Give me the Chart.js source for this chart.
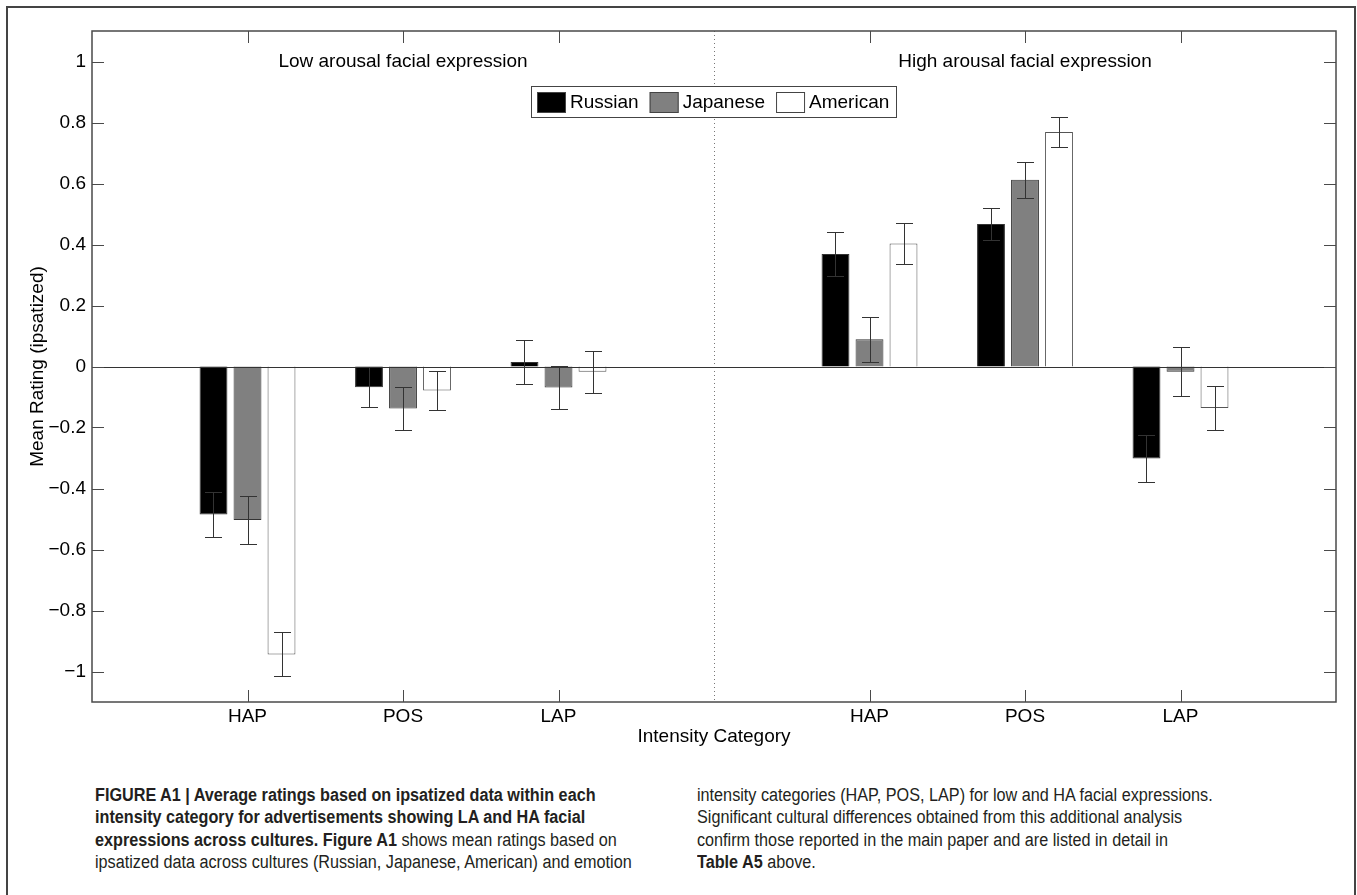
<!DOCTYPE html>
<html>
<head>
<meta charset="utf-8">
<script src="https://cdn.jsdelivr.net/npm/chart.js@4.4.0/dist/chart.umd.min.js"></script>
<style>
  html, body { margin: 0; padding: 0; background: #fff; }
  body { width: 1357px; height: 895px; position: relative; overflow: hidden; font-family: "Liberation Sans", Arial, sans-serif; }
  #frame { position: absolute; left: 6px; top: 6px; width: 1346px; height: 920px; border: 2px solid #444; border-bottom: none; }
  #wrap { position: absolute; left: 0; top: 0; width: 1357px; height: 760px; }
  .cap { position: absolute; font-family: "Liberation Sans", Arial, sans-serif; font-size: 18px; line-height: 22.3px; color: #231f20; white-space: nowrap; transform: scaleX(0.9); transform-origin: 0 0; }
  .cap b { font-weight: 700; }
</style>
</head>
<body>
<div id="frame"></div>
<div id="wrap"><canvas id="fig" width="1357" height="760"></canvas></div>
<div class="cap" style="left:95px; top:784px;">
  <b>FIGURE A1 | Average ratings based on ipsatized data within each</b><br>
  <b>intensity category for advertisements showing LA and HA facial</b><br>
  <b>expressions across cultures. Figure A1</b> shows mean ratings based on<br>
  ipsatized data across cultures (Russian, Japanese, American) and emotion
</div>
<div class="cap" style="left:697px; top:784px;">
  intensity categories (HAP, POS, LAP) for low and HA facial expressions.<br>
  Significant cultural differences obtained from this additional analysis<br>
  confirm those reported in the main paper and are listed in detail in<br>
  <b>Table A5</b> above.
</div>
<script>
// category slots: 0..8, empty slots give the gaps at both ends and in the middle
const categories = ["", "HAP", "POS", "LAP", "", "HAP", "POS", "LAP", ""];
const groupTitles = ["Low arousal facial expression", "High arousal facial expression"];
const groupCenters = [2, 6];
const dividerAt = 4;

const seriesNames = ["Russian", "Japanese", "American"];
const russian     = [null, -0.485, -0.068,  0.015, null, 0.369, 0.467, -0.302, null];
const russianErr  = [null,  0.074,  0.065,  0.073, null, 0.071, 0.052,  0.076, null];
const japanese    = [null, -0.503, -0.138, -0.069, null, 0.089, 0.612, -0.017, null];
const japaneseErr = [null,  0.080,  0.071,  0.070, null, 0.073, 0.058,  0.081, null];
const american    = [null, -0.944, -0.079, -0.017, null, 0.403, 0.769, -0.136, null];
const americanErr = [null,  0.072,  0.063,  0.069, null, 0.066, 0.050,  0.073, null];

const yTicks = [-1, -0.8, -0.6, -0.4, -0.2, 0, 0.2, 0.4, 0.6, 0.8, 1];

const FONT = '"Liberation Sans", Arial, sans-serif';
const AXIS = "#4a4a4a";

function fmtTick(v) {
  const r = Math.round(Math.abs(v) * 10) / 10;
  if (r === 0) return "0";
  return (v < 0 ? "\u2212" : "") + String(r);
}

const figurePlugin = {
  id: "figure",
  beforeDatasetsDraw(chart) {
    const { ctx, chartArea: a, scales: { x } } = chart;
    // dotted divider between the two panels
    const dx = Math.round(x.getPixelForValue(dividerAt)) + 0.5;
    ctx.save();
    ctx.strokeStyle = "#777";
    ctx.lineWidth = 1;
    ctx.setLineDash([1, 3]);
    ctx.beginPath();
    ctx.moveTo(dx, a.top);
    ctx.lineTo(dx, a.bottom);
    ctx.stroke();
    ctx.restore();
  },
  afterDatasetsDraw(chart) {
    const { ctx, chartArea: a, scales: { x, y } } = chart;
    ctx.save();

    // zero baseline
    const zy = Math.round(y.getPixelForValue(0)) + 0.5;
    ctx.strokeStyle = "#333";
    ctx.lineWidth = 1;
    ctx.beginPath();
    ctx.moveTo(a.left, zy);
    ctx.lineTo(a.right, zy);
    ctx.stroke();

    // error bars
    chart.data.datasets.forEach((ds, i) => {
      const meta = chart.getDatasetMeta(i);
      meta.data.forEach((bar, j) => {
        const v = ds.data[j];
        const e = ds.errors[j];
        if (v == null || e == null) return;
        const bx = Math.round(bar.x) + 0.5;
        const yt = Math.round(y.getPixelForValue(v + e)) + 0.5;
        const yb = Math.round(y.getPixelForValue(v - e)) + 0.5;
        const hw = 8.5;
        ctx.strokeStyle = "#333";
        ctx.lineWidth = 1;
        ctx.beginPath();
        ctx.moveTo(bx, yt); ctx.lineTo(bx, yb);
        ctx.moveTo(bx - hw, yt); ctx.lineTo(bx + hw, yt);
        ctx.moveTo(bx - hw, yb); ctx.lineTo(bx + hw, yb);
        ctx.stroke();
      });
    });

    // axes box
    ctx.strokeStyle = AXIS;
    ctx.lineWidth = 1.5;
    ctx.strokeRect(a.left, a.top, a.right - a.left, a.bottom - a.top);

    // inward tick marks on all four sides
    ctx.lineWidth = 1;
    ctx.beginPath();
    yTicks.forEach((t) => {
      const ty = Math.round(y.getPixelForValue(t)) + 0.5;
      ctx.moveTo(a.left, ty); ctx.lineTo(a.left + 12, ty);
      ctx.moveTo(a.right, ty); ctx.lineTo(a.right - 12, ty);
    });
    categories.forEach((c, i) => {
      if (!c) return;
      const tx = Math.round(x.getPixelForValue(i)) + 0.5;
      ctx.moveTo(tx, a.bottom); ctx.lineTo(tx, a.bottom - 12);
      ctx.moveTo(tx, a.top); ctx.lineTo(tx, a.top + 12);
    });
    ctx.stroke();

    // panel titles
    ctx.fillStyle = "#000";
    ctx.font = "19px " + FONT;
    ctx.textAlign = "center";
    ctx.textBaseline = "middle";
    groupTitles.forEach((t, i) => {
      ctx.fillText(t, x.getPixelForValue(groupCenters[i]), 62);
    });

    // legend box
    const lx = 531, ly = 86, lw = 365, lh = 31;
    ctx.fillStyle = "#fff";
    ctx.fillRect(lx, ly, lw, lh);
    ctx.strokeStyle = "#444";
    ctx.strokeRect(lx + 0.5, ly + 0.5, lw, lh);
    let sx = lx + 6;
    ctx.textAlign = "left";
    chart.data.datasets.forEach((ds) => {
      ctx.fillStyle = ds.backgroundColor;
      ctx.fillRect(sx, ly + 6, 29, 21);
      ctx.strokeStyle = "#444";
      ctx.strokeRect(sx + 0.5, ly + 6.5, 28, 20);
      ctx.fillStyle = "#000";
      ctx.fillText(ds.label, sx + 33, ly + 16.5);
      sx += 33 + ctx.measureText(ds.label).width + 11;
    });

    ctx.restore();
  }
};

new Chart(document.getElementById("fig"), {
  type: "bar",
  data: {
    labels: categories,
    datasets: [
      { label: seriesNames[0], data: russian, errors: russianErr, backgroundColor: "#000000", borderColor: "#333", borderWidth: 1 },
      { label: seriesNames[1], data: japanese, errors: japaneseErr, backgroundColor: "#808080", borderColor: "#333", borderWidth: 1 },
      { label: seriesNames[2], data: american, errors: americanErr, backgroundColor: "#ffffff", borderColor: "#555", borderWidth: 1 },
    ],
  },
  options: {
    responsive: false,
    animation: false,
    layout: { padding: { left: 0, right: 21, top: 31, bottom: 0 } },
    datasets: { bar: { categoryPercentage: 0.656, barPercentage: 0.82 } },
    plugins: { legend: { display: false }, tooltip: { enabled: false } },
    scales: {
      x: {
        type: "category",
        offset: false,
        grid: { display: false, drawTicks: false },
        border: { display: false },
        ticks: { autoSkip: false, maxRotation: 0, padding: 3, color: "#000", font: { family: FONT, size: 19 } },
        title: { display: true, text: "Intensity Category", color: "#000", font: { family: FONT, size: 19 }, padding: { top: 0, bottom: 12 } },
        afterFit(s) { s.height = 58; },
      },
      y: {
        min: -1.1,
        max: 1.1,
        grid: { display: false, drawTicks: false },
        border: { display: false },
        afterBuildTicks(s) { s.ticks = yTicks.map((v) => ({ value: v })); },
        ticks: { padding: 6, color: "#000", font: { family: FONT, size: 19 }, callback: (v) => fmtTick(v) },
        title: { display: true, text: "Mean Rating (ipsatized)", color: "#000", font: { family: FONT, size: 19 }, padding: { top: 26, bottom: 0 } },
        afterFit(s) { s.width = 92; },
      },
    },
  },
  plugins: [figurePlugin],
});
</script>
</body>
</html>
